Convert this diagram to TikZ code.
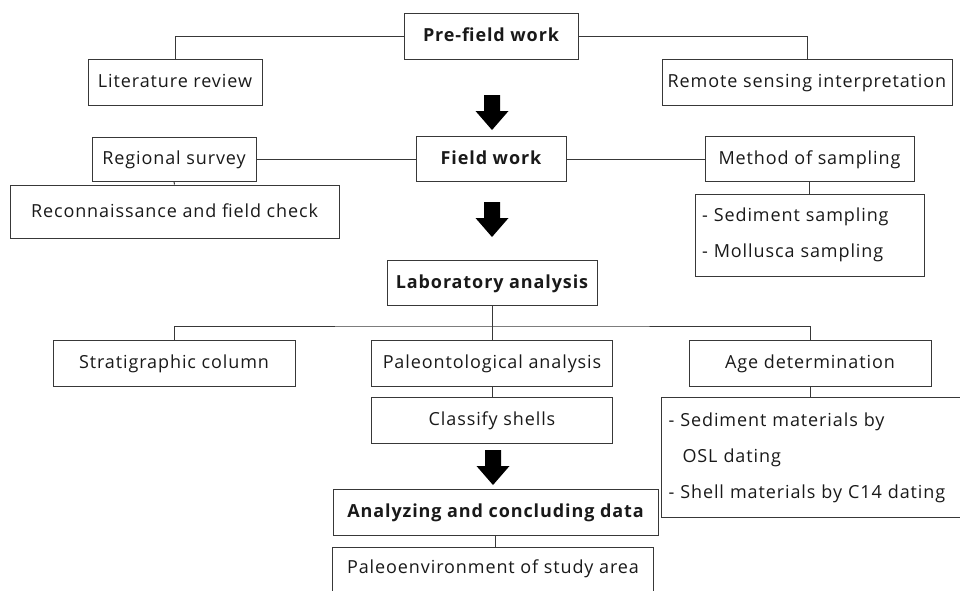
\documentclass[tikz,border=0pt]{standalone}
\usepackage{fontspec}
\setmainfont{Open Sans}[LetterSpace=5]
\begin{document}
\begin{tikzpicture}[x=1pt,y=-1pt,
  box/.style={draw=black!78, line width=1pt, rectangle, inner sep=0pt,
    text height=15pt, text depth=3.5pt,
    font=\fontsize{18}{21}\selectfont, text=black!90},
  hbox/.style={box, font=\fontsize{18}{21}\selectfont\bfseries},
  listbox/.style={draw=black!78, line width=1pt, rectangle, inner sep=0pt,
    align=left, inner xsep=7pt, text=black!90,
    font=\fontsize{18}{36}\selectfont},
  conn/.style={draw=black!78, line width=1pt},
  blockarrow/.pic={\fill[black] (-8,0) -- (8,0) -- (8,16) -- (16.5,16) -- (0,35)
      -- (-16.5,16) -- (-8,16) -- cycle;}]
\useasboundingbox (0,0) rectangle (960,590);
\clip (0,0) rectangle (960,590);

% Pre-field work
\node[hbox, minimum width=174pt, minimum height=46pt] (prefield) at (491,36) {Pre-field work};
\node[box, minimum width=174pt, minimum height=46pt] (lit) at (175,82) {Literature review};
\node[box, minimum width=290pt, minimum height=46pt] (remote) at (807,82) {Remote sensing interpretation};
\draw[conn] (prefield.west) -| (lit.north);
\draw[conn] (prefield.east) -| (remote.north);
\pic at (492,95) {blockarrow};

% Field work
\node[hbox, minimum width=150pt, minimum height=45pt] (field) at (491,159) {Field work};
\node[box, minimum width=164pt, minimum height=44pt] (regional) at (174,159) {Regional survey};
\node[box, minimum width=209pt, minimum height=45pt] (method) at (809.5,159) {Method of sampling};
\node[box, minimum width=329pt, minimum height=53pt] (recon) at (174.5,211.5) {Reconnaissance and field check};
\node[listbox, text width=215pt, minimum height=82pt] (sampling) at (809.5,235) {- Sediment sampling\\- Mollusca sampling};
\draw[conn] (regional.east) -- (field.west);
\draw[conn] (field.east) -- (method.west);
\draw[conn] (regional.south) -- (recon.north);
\draw[conn] (method.south) -- (sampling.north);
\pic at (492,202) {blockarrow};

% Laboratory analysis
\node[hbox, minimum width=210pt, minimum height=45pt] (lab) at (492,282.5) {Laboratory analysis};
\node[box, minimum width=242pt, minimum height=46pt] (strat) at (174,363) {Stratigraphic column};
\node[box, minimum width=241pt, minimum height=46pt] (paleo) at (492,363) {Paleontological analysis};
\node[box, minimum width=242pt, minimum height=46pt] (age) at (810,363) {Age determination};
\coordinate (bus) at (492,326);
\draw[conn] (lab.south) -- (paleo.north);
\draw[conn] (strat.north) |- (bus) -| (age.north);
\node[box, minimum width=241pt, minimum height=46pt] (classify) at (492,420) {Classify shells};
\draw[conn] (paleo.south) -- (classify.north);
\node[listbox, text width=295pt, minimum height=120pt, anchor=north west] (dating) at (661,397)
  {- Sediment materials by\\\hspace*{14pt}OSL dating\\- Shell materials by C14 dating};
\draw[conn] (age.south) -- (age.south |- dating.north);
\pic at (493,450) {blockarrow};

% Analyzing
\node[hbox, minimum width=325pt, minimum height=46pt] (analyze) at (495.5,512) {Analyzing and concluding data};
\node[box, minimum width=321pt, minimum height=60pt, anchor=north west,
  text height=15pt, text depth=24pt] (env) at (332,547) {Paleoenvironment of study area};
\draw[conn] (analyze.south) -- (analyze.south |- env.north);
\end{tikzpicture}
\end{document}
